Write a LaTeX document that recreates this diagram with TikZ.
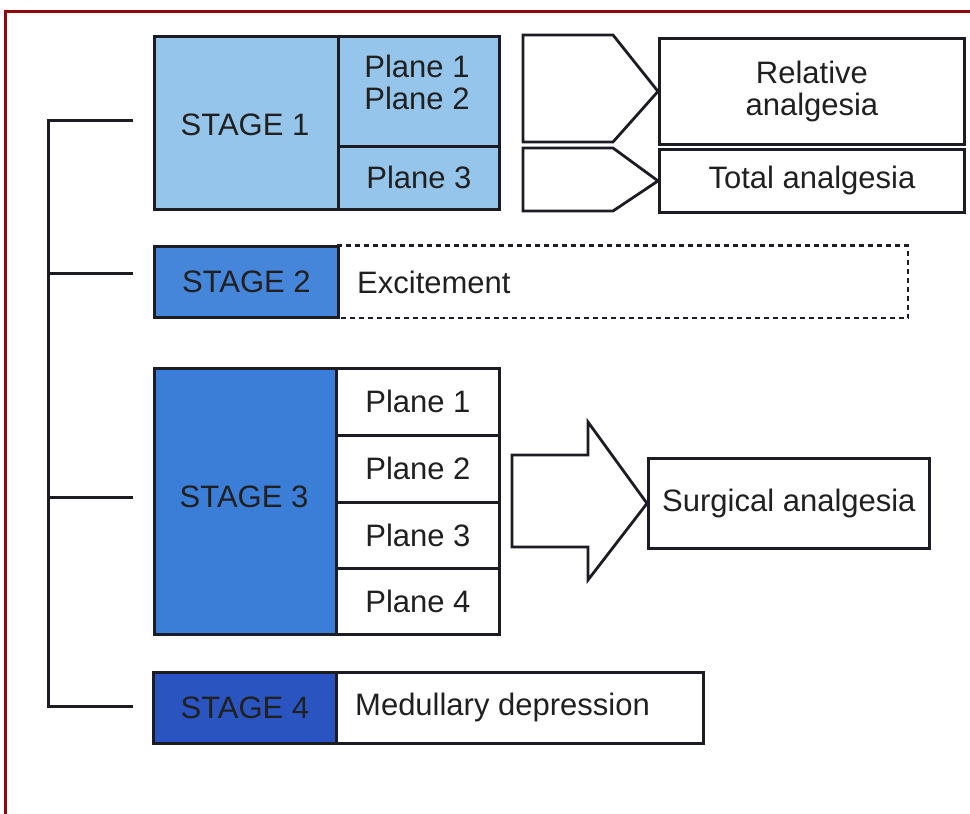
\documentclass[tikz,border=0pt]{standalone}
\usepackage{fontspec}
\setmainfont{Liberation Sans}
\definecolor{frame}{HTML}{8B0A0A}
\definecolor{ink}{HTML}{1C1C24}
\definecolor{txt}{HTML}{202020}
\definecolor{sone}{HTML}{95C5EA}
\definecolor{stwo}{HTML}{4586DA}
\definecolor{sthree}{HTML}{3A7ED8}
\definecolor{sfour}{HTML}{2A55C0}
\tikzset{
  cell/.style={draw=ink, line width=2.8pt, inner sep=0pt, anchor=north west,
    text=txt, font=\fontsize{31}{34}\selectfont, align=center},
  blockarrow/.style={draw=ink, line width=2.8pt, fill=white, line join=miter},
  bracket/.style={draw=ink, line width=3pt},
  lbl/.style={text=txt, font=\fontsize{31}{34}\selectfont, inner sep=0pt}
}
\begin{document}
\begin{tikzpicture}[x=1pt,y=-1pt]
\useasboundingbox (0,0) rectangle (970,814);
% frame
\draw[frame, line width=3pt] (5.5,814) -- (5.5,11) -- (970,11);

% STAGE 1
\node[cell, fill=sone, minimum width=184pt, minimum height=173pt] (s1) at (153,35) {};
\node[lbl] (s1t) at (245,125) {STAGE 1};
\node[cell, fill=sone, minimum width=161pt, minimum height=110pt] (s1p12) at (337,35) {};
\node[lbl, align=center] (s1p12t) at (417,82) {Plane 1\\[-2pt]Plane 2};
\node[cell, fill=sone, minimum width=161pt, minimum height=63pt] (s1p3) at (337,145) {Plane 3};

% arrows stage 1
\node[cell, minimum width=305pt, minimum height=106pt] (ra) at (658,37) {Relative\\[-2pt]analgesia};
\node[cell, minimum width=305pt, minimum height=63pt] (ta) at (658,148) {Total analgesia};
\draw[blockarrow] (523,35) -- (613,35) -- (ra.west) -- (613,142) -- (523,142) -- cycle;
\draw[blockarrow] (523,148) -- (613,148) -- (ta.west) -- (613,211) -- (523,211) -- cycle;

% STAGE 2
\node[cell, fill=stwo, minimum width=184pt, minimum height=71pt] (s2) at (153,245) {STAGE 2};
\coordinate (exa) at (337,245.5);
\coordinate (exb) at (908,245.5);
\coordinate (exc) at (908,318);
\coordinate (exd) at (337,318);
\draw[ink, line width=2.8pt, dash pattern=on 5pt off 4pt] (exa) -- (exb) -- (exc) -- (exd);
\node[lbl, anchor=west] (ex) at (357,282) {Excitement};

% STAGE 3
\node[cell, fill=sthree, minimum width=182pt, minimum height=266pt] (s3) at (153,367) {};
\node[lbl] (s3t) at (244,497) {STAGE 3};
\node[cell, fill=white, minimum width=163pt, minimum height=67pt] (p1) at (335,367) {Plane 1};
\node[cell, fill=white, minimum width=163pt, minimum height=67pt] (p2) at (335,434) {Plane 2};
\node[cell, fill=white, minimum width=163pt, minimum height=66pt] (p3) at (335,501) {Plane 3};
\node[cell, fill=white, minimum width=163pt, minimum height=66pt] (p4) at (335,567) {Plane 4};
\node[cell, minimum width=281pt, minimum height=90pt] (sa) at (647,457) {Surgical analgesia};
\draw[blockarrow] (512,455) -- (588,455) -- (588,422) -- (sa.west) -- (588,580) -- (588,547) -- (512,547) -- cycle;

% STAGE 4
\node[cell, fill=sfour, minimum width=183pt, minimum height=71pt] (s4) at (152,671) {STAGE 4};
\node[cell, fill=white, minimum width=367pt, minimum height=71pt] (md) at (335,671) {};
\node[lbl, anchor=west] (mdt) at (355,707) {Medullary depression};

% bracket
\coordinate (b1) at (133,120);
\coordinate (b2) at (133,273);
\coordinate (b3) at (133,497);
\coordinate (b4) at (133,706);
\draw[bracket] (b1) -- (48,120) -- (48,706) -- (b4);
\draw[bracket] (48,273) -- (b2);
\draw[bracket] (48,497) -- (b3);
\end{tikzpicture}
\end{document}
